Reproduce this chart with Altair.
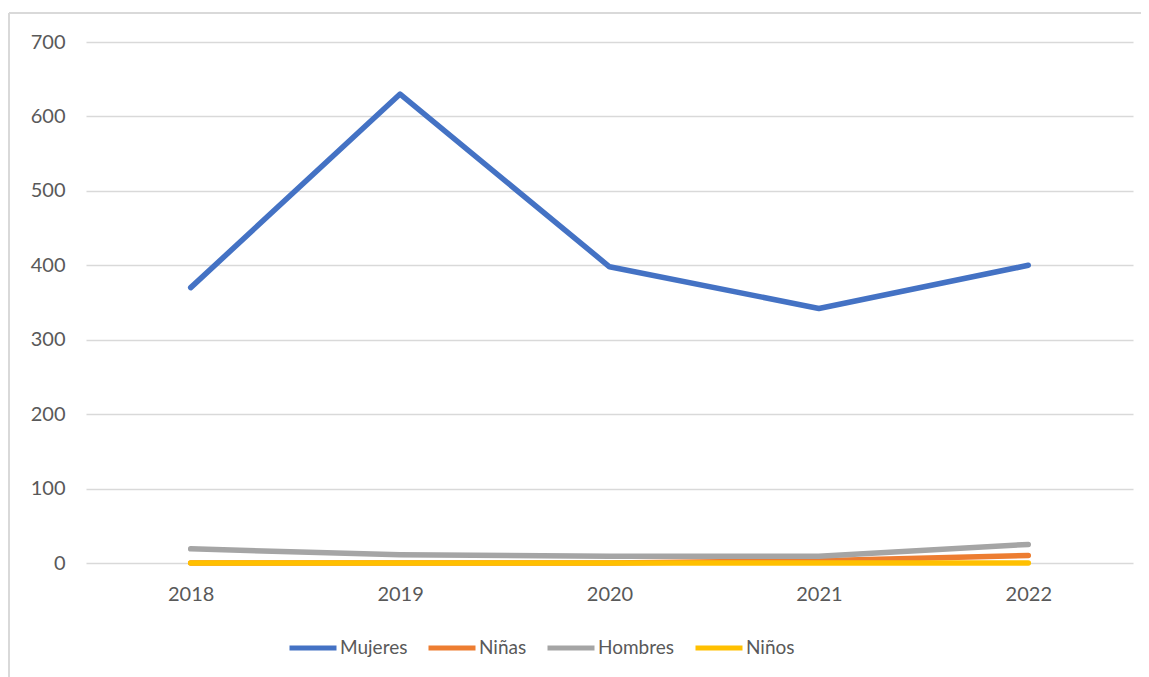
import altair as alt
import pandas as pd

years = ["2018", "2019", "2020", "2021", "2022"]
series_names = ["Mujeres", "Niñas", "Hombres", "Niños"]
mujeres = [370, 630, 398, 342, 400]
ninas = [0, 0, 0, 3, 10]
hombres = [19, 11, 9, 9, 25]
ninos = [0, 0, 0, 0, 0]
colors = ["#4472C4", "#ED7D31", "#A5A5A5", "#FFC000"]

rows = []
for name, vals in zip(series_names, [mujeres, ninas, hombres, ninos]):
    for i, (y, v) in enumerate(zip(years, vals)):
        rows.append({"Año": y, "Serie": name, "Valor": v, "orden": series_names.index(name)})
df = pd.DataFrame(rows)

FONT = "Lato"
W, H = 1047, 521

lines = alt.Chart(df).mark_line(strokeWidth=5.5, strokeCap="round", strokeJoin="round").encode(
    x=alt.X("Año:O", title=None,
            scale=alt.Scale(type="point", padding=0.5),
            axis=alt.Axis(labelAngle=0, ticks=False, domain=False, grid=False,
                          labelPadding=21, labelFontSize=20, labelColor="#595959",
                          labelFont=FONT)),
    y=alt.Y("Valor:Q", title=None,
            scale=alt.Scale(domain=[0, 700], nice=False),
            axis=alt.Axis(values=list(range(0, 701, 100)), ticks=False, domain=False,
                          grid=True, gridColor="#D9D9D9", gridWidth=1.3,
                          labelPadding=21, labelFontSize=20, labelColor="#595959",
                          labelFont=FONT)),
    color=alt.Color("Serie:N", title=None,
                    scale=alt.Scale(domain=series_names, range=colors),
                    legend=alt.Legend(orient="none", legendX=201, legendY=580,
                                      direction="horizontal", symbolType="stroke",
                                      symbolSize=2209, symbolStrokeWidth=5,
                                      labelFontSize=19, labelColor="#595959",
                                      labelFont=FONT, labelOffset=1,
                                      columnPadding=10, columns=4)),
    detail="orden:O",
    order="orden:O",
)

top_border = alt.Chart(df).mark_rule(color="#D9D9D9", strokeWidth=1.5).encode(
    x=alt.value(-77), x2=alt.value(1063), y=alt.value(-29)
)
left_border = alt.Chart(df).mark_rule(color="#D9D9D9", strokeWidth=1.5).encode(
    x=alt.value(-77), y=alt.value(-29), y2=alt.value(640)
)

chart = alt.layer(top_border, left_border, lines).properties(
    width=W, height=H,
    autosize=alt.AutoSizeParams(type="none"),
    padding={"left": 78, "top": 34, "right": 8, "bottom": 120},
).configure(background="white").configure_view(stroke=None)

chart.save("out.html", embed_options={"renderer": "svg", "actions": False})
